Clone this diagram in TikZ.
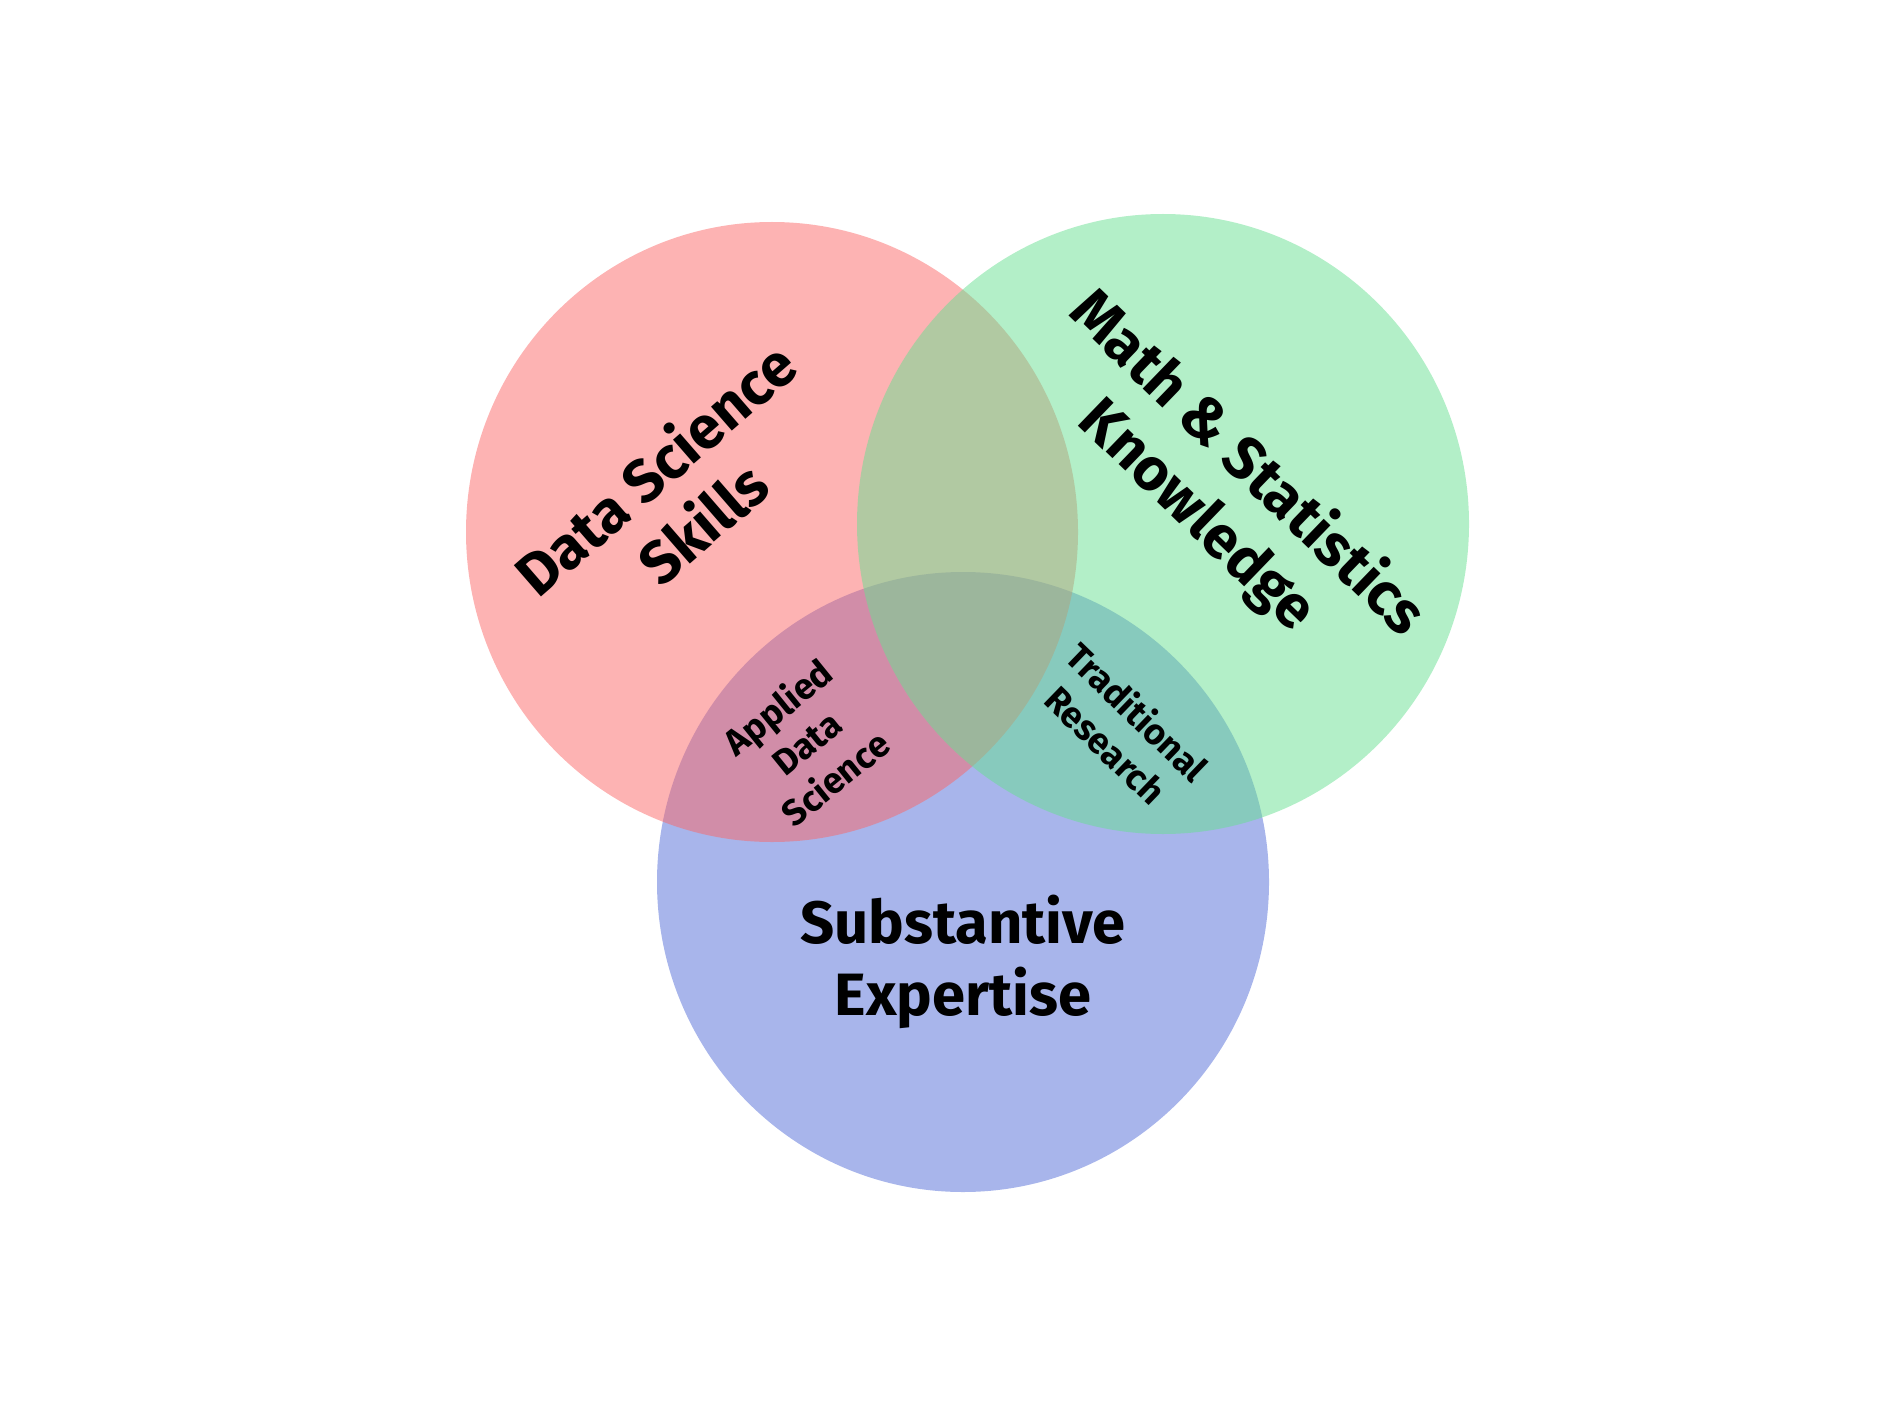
\documentclass[tikz,border=0pt]{standalone}
\usepackage{fontspec}
\setmainfont{Fira Sans}
\usepackage{tikz}
\usetikzlibrary{shapes.geometric}
\definecolor{dsred}{RGB}{251,103,103}
\definecolor{msgreen}{RGB}{103,223,145}
\definecolor{seblue}{RGB}{81,107,215}
\tikzset{
    venn/.style={
           ellipse,
           fill opacity=0.5,
           inner sep=0pt,
           minimum width=6.12cm,
           minimum height=6.2cm,
           },
    biglabel/.style={
           align=center,
           inner sep=2pt,
           font=\fontsize{17}{20.5}\selectfont\bfseries,
           },
    smalllabel/.style={
           align=center,
           inner sep=2pt,
           font=\fontsize{10.3}{13}\selectfont\bfseries,
           },
}
\begin{document}
\begin{tikzpicture}
	\useasboundingbox (0,0) rectangle (19,14.25);
	
	\node[venn, fill=seblue] (expert) at (9.63,5.43) {};
	\node[venn, fill=dsred] (skills) at (7.72,8.93) {};
	\node[venn, fill=msgreen] (math) at (11.63,9.01) {};
	
	\node[biglabel, rotate=41] (skillstext) at (6.78,9.30) {Data Science\\Skills};
	\node[biglabel, rotate=-44] (mathtext) at (12.22,9.35) {Math \& Statistics\\Knowledge};
	\node[biglabel] (experttext) at (9.63,4.63) {Substantive\\Expertise};
	
	\node[smalllabel, rotate=39] (applied) at (8.06,6.83) {Applied\\Data\\Science};
	\node[smalllabel, rotate=-44] (research) at (11.22,6.97) {Traditional\\Research};

\end{tikzpicture}
\end{document}
